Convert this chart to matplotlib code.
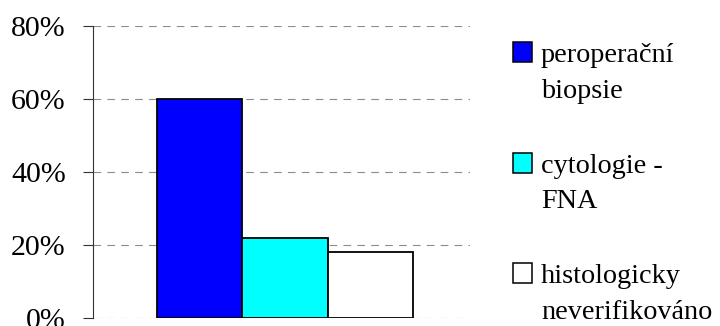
import matplotlib
matplotlib.use("Agg")
import matplotlib.pyplot as plt
from matplotlib.patches import Rectangle
from matplotlib.ticker import FuncFormatter

# Data
labels = ["peroperační\nbiopsie", "cytologie -\nFNA", "histologicky\nneverifikováno"]
values = [60, 22, 18]
colors = ["#0000ff", "#00ffff", "#ffffff"]
yticks = [0, 20, 40, 60, 80]

W, H = 720, 326
plt.rcParams["font.family"] = ["Liberation Serif", "DejaVu Serif"]
plt.rcParams["lines.scale_dashes"] = False

fig = plt.figure(figsize=(W / 100, H / 100), dpi=100)
ax = fig.add_axes([93 / W, (H - 318) / H, (470 - 93) / W, (318 - 26) / H])

bw = 0.2255
offsets = [(i - 1) * bw for i in range(len(values))]
ax.bar(offsets, values, width=bw, color=colors, edgecolor="black",
       linewidth=1.3, zorder=3)

ax.set_xlim(-1.5 * bw - 64 / 377, 1.5 * bw + 57 / 377)
ax.set_ylim(yticks[0], yticks[-1])
ax.set_yticks(yticks)
ax.yaxis.set_major_formatter(FuncFormatter(lambda v, p: f"{v:.0f}%"))
ax.set_xticks([])

ax.yaxis.grid(True, linestyle=(0, (5.5, 4.5)), color="#8c8c8c", linewidth=0.8)
ax.set_axisbelow(True)
for s in ["top", "right", "bottom"]:
    ax.spines[s].set_visible(False)
ax.spines["left"].set_color("#333333")
ax.spines["left"].set_linewidth(0.8)
ax.tick_params(axis="y", direction="out", length=7.2, width=0.8,
               color="#333333", pad=12.5, labelsize=21.5, labelcolor="black")

# Legend drawn in figure pixel coordinates
def fx(px):
    return px / W

def fy(py):
    return 1 - py / H

first_baseline = 62
entry_gap = 110.5
line_gap = 36
for i, (lab, col) in enumerate(zip(labels, colors)):
    base = first_baseline + i * entry_gap
    fig.patches.append(Rectangle((fx(513), fy(base)), 19 / W, 20 / H,
                                 transform=fig.transFigure, facecolor=col,
                                 edgecolor="black", linewidth=1.1))
    for j, line in enumerate(lab.split("\n")):
        fig.text(fx(541), fy(base + j * line_gap), line, fontsize=20.3,
                 ha="left", va="baseline", color="black")

fig.savefig("out.png", dpi=100)
